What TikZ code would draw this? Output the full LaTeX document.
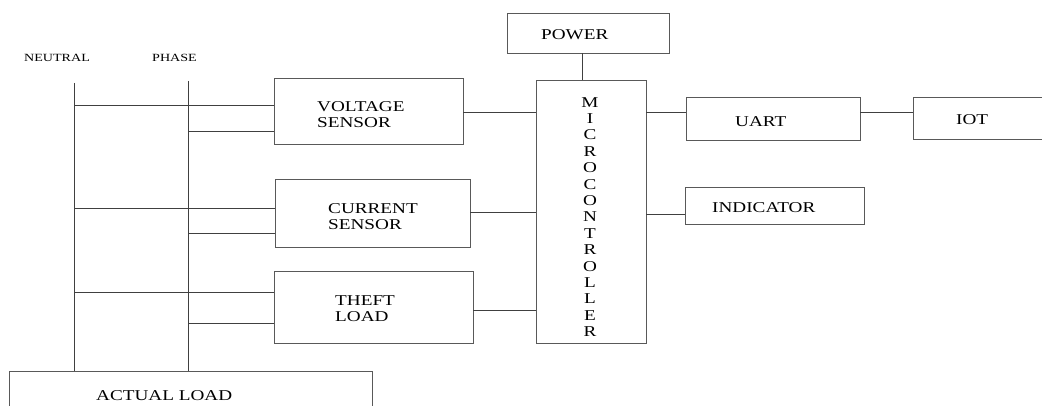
\documentclass[tikz,border=0pt]{standalone}
\usepackage{fontspec}
\setmainfont{Liberation Serif}[FakeStretch=1.28]
\begin{document}
\begin{tikzpicture}[x=1pt,y=-1pt,
  box/.style={draw=black!65, line width=0.8pt, inner sep=0pt},
  wire/.style={draw=black!75, line width=0.8pt},
  lbl/.style={inner sep=0pt, font=\fontsize{15}{16}\selectfont, text=black},
  ml/.style={lbl, align=left, anchor=north west},
  small/.style={inner sep=0pt, font=\fontsize{11}{12}\selectfont, text=black, anchor=base west}]
\useasboundingbox (0,0) rectangle (1042,406);
% boxes
\node[box, minimum width=162, minimum height=40] (pw) at (588,33) {};
\node[box, minimum width=110, minimum height=263] (mc) at (591,211.5) {};
\node[box, minimum width=189, minimum height=66] (vs) at (368.5,111) {};
\node[box, minimum width=195, minimum height=68] (cs) at (372.5,213) {};
\node[box, minimum width=199, minimum height=72] (tl) at (373.5,307) {};
\node[box, minimum width=174, minimum height=43] (ua) at (773,118.5) {};
\node[box, minimum width=140, minimum height=42] (io) at (983,118) {};
\node[box, minimum width=179, minimum height=37] (in) at (774.5,205.5) {};
\node[box, minimum width=363, minimum height=60] (al) at (190.5,401) {};
% labels
\node[small] (neu) at (24,61.7) {NEUTRAL};
\node[small] (pha) at (152,61.7) {PHASE};
\node[lbl, anchor=base west] (pwt) at (541,40) {POWER};
\node[ml] (vst) at (317,101.7) {VOLTAGE\\SENSOR};
\node[ml] (cst) at (328,203) {CURRENT\\SENSOR};
\node[ml] (tlt) at (335,295.5) {THEFT\\LOAD};
\node[lbl, anchor=base west] (uat) at (735,126.7) {UART};
\node[lbl, anchor=base west] (iot) at (956,125) {IOT};
\node[lbl, anchor=base west] (int) at (712,213) {INDICATOR};
\node[lbl, anchor=base west] (alt) at (96,400) {ACTUAL LOAD};
\node[lbl, align=center, anchor=north, font=\fontsize{15}{16.4}\selectfont] (mct) at (590,97)
  {M\\I\\C\\R\\O\\C\\O\\N\\T\\R\\O\\L\\L\\E\\R};
% mains lines
\coordinate (nt) at (74,83);
\coordinate (pt) at (188,81);
\draw[wire] (nt) -- (nt |- al.north);
\draw[wire] (pt) -- (pt |- al.north);
% sensor feeds
\coordinate (n1) at (74,105);  \coordinate (p1) at (188,131);
\coordinate (n2) at (74,208);  \coordinate (p2) at (188,233);
\coordinate (n3) at (74,292);  \coordinate (p3) at (188,323);
\draw[wire] (n1) -- (n1 -| vs.west);
\draw[wire] (p1) -- (p1 -| vs.west);
\draw[wire] (n2) -- (n2 -| cs.west);
\draw[wire] (p2) -- (p2 -| cs.west);
\draw[wire] (n3) -- (n3 -| tl.west);
\draw[wire] (p3) -- (p3 -| tl.west);
% to microcontroller
\coordinate (m1) at (0,112);
\coordinate (m2) at (0,212);
\coordinate (m3) at (0,310);
\coordinate (m4) at (0,214);
\draw[wire] (vs.east |- m1) -- (mc.west |- m1);
\draw[wire] (cs.east |- m2) -- (mc.west |- m2);
\draw[wire] (tl.east |- m3) -- (mc.west |- m3);
\draw[wire] (pw.south -| 582,0) -- (mc.north -| 582,0);
\draw[wire] (mc.east |- m1) -- (ua.west |- m1);
\draw[wire] (ua.east |- m1) -- (io.west |- m1);
\draw[wire] (mc.east |- m4) -- (in.west |- m4);
\end{tikzpicture}
\end{document}
